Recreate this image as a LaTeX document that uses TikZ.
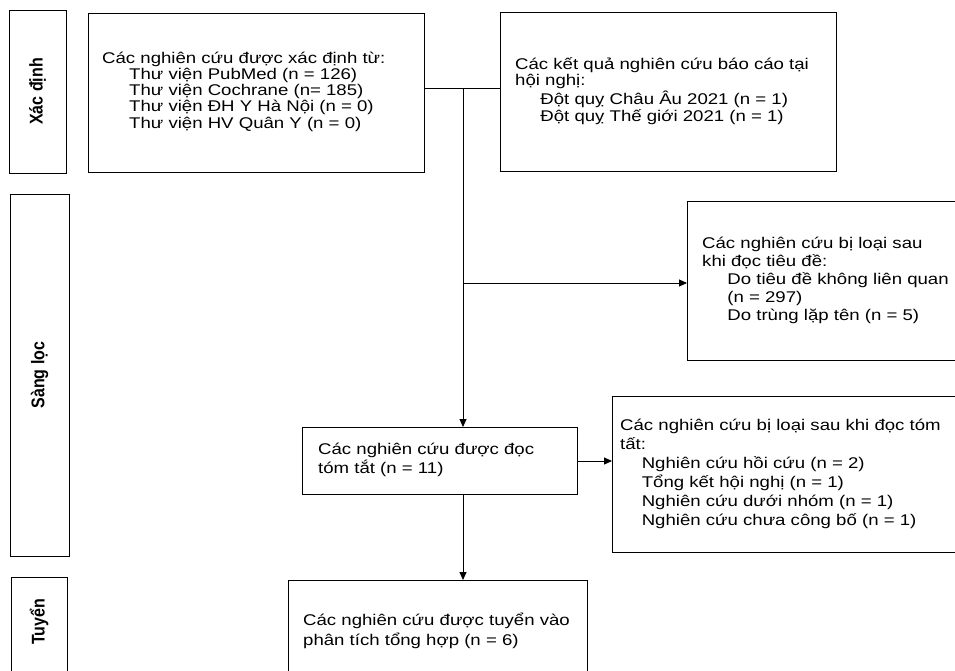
\documentclass[tikz,border=0pt]{standalone}
\usepackage{fontspec}
\setmainfont{Liberation Sans}
\usepackage{graphicx}
\usetikzlibrary{arrows.meta}
\newcommand{\tbx}[2]{\scalebox{1.2}[1]{\fontsize{15.5}{#1}\selectfont\begin{tabular}[t]{@{}l@{}}#2\end{tabular}}}
\newcommand{\ind}[1]{\hspace*{#1pt}}
\begin{document}
\begin{tikzpicture}[x=1pt,y=-1pt,
  box/.style={draw, line width=1pt, rectangle, inner sep=0pt, anchor=north west},
  txt/.style={inner sep=0pt, anchor=base west},
  side/.style={font=\bfseries\fontsize{16}{16}\selectfont, rotate=90, inner sep=0pt},
  arr/.style={-{Triangle[length=8pt,width=7pt]}, line width=0.9pt},
  ln/.style={line width=0.9pt}]
\fill[white] (0,0) rectangle (955,670);
\useasboundingbox (0,0) rectangle (955,670);

% phase boxes
\node[box, minimum width=57, minimum height=163] (X) at (9,10) {};
\node[box, minimum width=59, minimum height=362] (S) at (10,194) {};
\node[box, minimum width=56, minimum height=120] (T) at (11,577) {};
\node[side] (lX) at (37.5,91.5) {\scalebox{1}[1.15]{Xác định}};
\node[side] (lS) at (39.5,375) {\scalebox{1}[1.15]{Sàng lọc}};
\node[side] (lT) at (39,622) {\scalebox{1}[1.15]{Tuyển}};

% boxes
\node[box, minimum width=336, minimum height=159] (A) at (88,13) {};
\node[box, minimum width=336, minimum height=159] (B) at (500,12) {};
\node[box, minimum width=290, minimum height=159] (C) at (687,201) {};
\node[box, minimum width=275, minimum height=67] (D) at (302,427) {};
\node[box, minimum width=360, minimum height=156] (E) at (612,396) {};
\node[box, minimum width=299, minimum height=110] (F) at (288,580) {};

% texts
\node[txt] (tA) at (102,63) {\tbx{16.3}{Các nghiên cứu được xác định từ:\\
\ind{22.5}Thư viện PubMed (n = 126)\\
\ind{22.5}Thư viện Cochrane (n= 185)\\
\ind{22.5}Thư viện ĐH Y Hà Nội (n = 0)\\
\ind{22.5}Thư viện HV Quân Y (n = 0)}};
\node[txt] (tB) at (515,69) {\tbx{16.7}{Các kết quả nghiên cứu báo cáo tại\\
hội nghị:\\
\ind{21}Đột quỵ Châu Âu 2021 (n = 1)\\
\ind{21}Đột quỵ Thế giới 2021 (n = 1)}};
\node[txt] (tC) at (702,248) {\tbx{18}{Các nghiên cứu bị loại sau\\
khi đọc tiêu đề:\\
\ind{21}Do tiêu đề không liên quan\\
\ind{21}(n = 297)\\
\ind{21}Do trùng lặp tên (n = 5)}};
\node[txt] (tD) at (318,454) {\tbx{19}{Các nghiên cứu được đọc\\
tóm tắt (n = 11)}};
\node[txt] (tE) at (620,430) {\tbx{19}{Các nghiên cứu bị loại sau khi đọc tóm\\
tất:\\
\ind{18}Nghiên cứu hồi cứu (n = 2)\\
\ind{18}Tổng kết hội nghị (n = 1)\\
\ind{18}Nghiên cứu dưới nhóm (n = 1)\\
\ind{18}Nghiên cứu chưa công bố (n = 1)}};
\node[txt] (tF) at (303,625) {\tbx{20}{Các nghiên cứu được tuyển vào\\
phân tích tổng hợp (n = 6)}};

% connectors
\coordinate (j1) at (463,88);
\coordinate (j2) at (463,283);
\draw[ln] (j1 -| A.east) -- (j1 -| B.west);
\draw[arr] (j1) -- (j1 |- D.north);
\draw[arr] (j2) -- (j2 -| C.west);
\draw[arr] (D.east) -- (D.east -| E.west);
\draw[arr] (j1 |- D.south) -- (j1 |- F.north);
\end{tikzpicture}
\end{document}
